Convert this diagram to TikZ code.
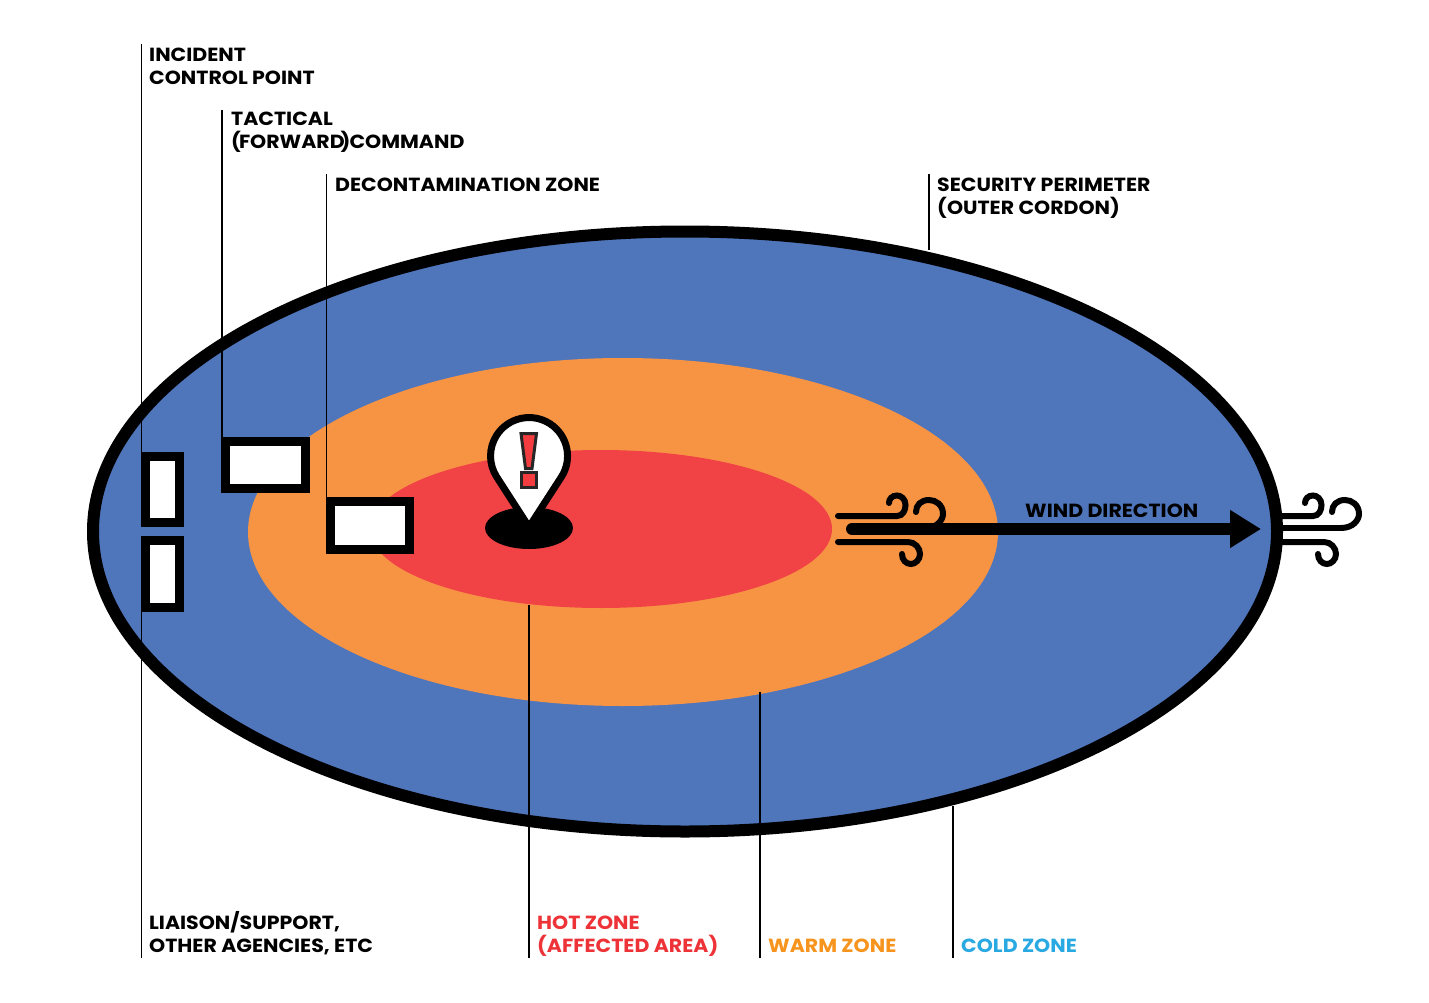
\documentclass[tikz,border=0pt]{standalone}
\usepackage{fontspec}
\setmainfont{Poppins}
\newfontfamily\lblfont[FakeStretch=1.08]{Poppins}
\usepackage{xcolor}
\usetikzlibrary{arrows.meta, positioning, shapes.geometric}
\definecolor{coldcol}{HTML}{4F75BB}
\definecolor{warmcol}{HTML}{F79444}
\definecolor{hotcol}{HTML}{F14346}
\definecolor{hottext}{HTML}{EE3338}
\definecolor{warmtext}{HTML}{F7941D}
\definecolor{coldtext}{HTML}{29A9E1}
\tikzset{
  zone/.style={ellipse,inner sep=0pt,outer sep=0pt},
  postbox/.style={draw=black,fill=white,line width=9pt,inner sep=0pt},
  leader/.style={draw=black,line width=1.8pt},
  lbl/.style={anchor=north west,inner sep=0pt,align=left,font=\lblfont\fontsize{19}{23}\selectfont\bfseries},
  windline/.style={draw=black,line width=6pt,line cap=round}
}
\begin{document}
\begin{tikzpicture}[x=1pt,y=-1pt]%
  \useasboundingbox (0,0) rectangle (1429,1003);
  \fill[white] (0,0) rectangle (1429,1003);
  \node[zone,draw=black,line width=12pt,fill=coldcol,minimum width=1184pt,minimum height=600pt] (coldzone) at (685,531.5) {};
  \node[zone,fill=warmcol,minimum width=750pt,minimum height=348pt] (warmzone) at (623,532) {};
  \node[zone,fill=hotcol,minimum width=462pt,minimum height=158pt] (hotzone) at (601,529) {};
  \node[postbox,minimum width=34pt,minimum height=66pt] (icpbox) at (162.5,489.5) {};
  \node[postbox,minimum width=34pt,minimum height=67pt] (liaisonbox) at (162.5,574) {};
  \node[postbox,minimum width=80pt,minimum height=47pt] (tacticalbox) at (265.5,465) {};
  \node[postbox,minimum width=79pt,minimum height=48pt] (deconbox) at (370,525.5) {};
  \node[lbl] (icplbl) at (149,48) {INCIDENT\\CONTROL POINT};
  \node[lbl] (tacticallbl) at (231,112) {TACTICAL\\(\kern-2pt FORWARD\kern-4pt)\kern-1pt COMMAND};
  \node[lbl] (deconlbl) at (335,178) {DECONTAMINATION ZONE};
  \node[lbl] (securitylbl) at (937,178) {SECURITY PERIMETER\\(OUTER CORDON)};
  \node[lbl] (liaisonlbl) at (149,911) {LIAISON/SUPPORT,\\OTHER AGENCIES, ETC};
  \node[lbl,text=hottext] (hotlbl) at (537,916) {HOT ZONE\\(AFFECTED AREA)};
  \node[lbl,text=warmtext] (warmlbl) at (768,939) {WARM ZONE};
  \node[lbl,text=coldtext] (coldlbl) at (961,939) {COLD ZONE};
  \node[lbl] (windlbl) at (1025,504) {WIND DIRECTION};
  \coordinate (icptop) at (141.5,44);
  \coordinate (tacticaltop) at (222,110);
  \coordinate (decontop) at (326.5,174);
  \coordinate (securitytop) at (929,174);
  \coordinate (securityend) at (929,250);
  \coordinate (liaisonend) at (141.5,958);
  \coordinate (hotend) at (529,958);
  \coordinate (hotstart) at (529,605);
  \coordinate (warmend) at (760,958);
  \coordinate (warmstart) at (760,692);
  \coordinate (coldend) at (953,958);
  \coordinate (coldstart) at (953,806);
  \draw[leader] (icptop) -- (icptop |- icpbox.north);
  \draw[leader] (tacticaltop) -- (tacticaltop |- tacticalbox.north);
  \draw[leader] (decontop) -- (decontop |- deconbox.north);
  \draw[leader] (securitytop) -- (securityend);
  \draw[leader] (liaisonend) -- (liaisonend |- liaisonbox.south);
  \draw[leader] (hotend) -- (hotstart);
  \draw[leader] (warmend) -- (warmstart);
  \draw[leader] (coldend) -- (coldstart);
  \fill[black] (529,528) ellipse (44pt and 21pt);
  \draw[draw=black,fill=white,line width=7pt,line join=miter] (529,527)
    -- (561.4,476.9) arc[start angle=-32.8,end angle=212.8,radius=38.5pt] -- cycle;
  \draw[draw=black!85,fill=hotcol!90!red,line width=3pt] (521,433.5) -- (536.5,433.5) -- (532,468.5) -- (525.5,468.5) -- cycle;
  \draw[draw=black!85,fill=hotcol!90!red,line width=3pt] (521.5,472.5) rectangle (536.5,487.5);
  \foreach \dx/\xs in {0/838,416/1277}{
    \draw[windline] (\xs,516) -- (897+\dx,516) .. controls (903+\dx,516) and (905.5+\dx,510) .. (905.5+\dx,505)
      .. controls (905.5+\dx,499) and (901+\dx,495.5) .. (897+\dx,495.5)
      .. controls (892+\dx,495.5) and (889+\dx,499) .. (889+\dx,503);
    \draw[windline] (\xs,542) -- (908+\dx,542) .. controls (915+\dx,542) and (920+\dx,548) .. (920+\dx,554)
      .. controls (920+\dx,560) and (915+\dx,564) .. (911+\dx,564)
      .. controls (906+\dx,564) and (902+\dx,560) .. (902+\dx,554);
    \draw[windline] (925+\dx,528) .. controls (937+\dx,528) and (943+\dx,520) .. (943+\dx,514)
      .. controls (943+\dx,505) and (936+\dx,500) .. (929+\dx,500)
      .. controls (921+\dx,500) and (916+\dx,505) .. (916+\dx,512);
  }
  \draw[windline] (1277,528) -- (1341,528);
  \coordinate (windstart) at (852,529);
  \coordinate (windend) at (1261,529);
  \draw[line width=12pt,line cap=round,-{Triangle[length=31pt,width=36pt]}] (windstart) -- (windend);
\end{tikzpicture}
\end{document}
